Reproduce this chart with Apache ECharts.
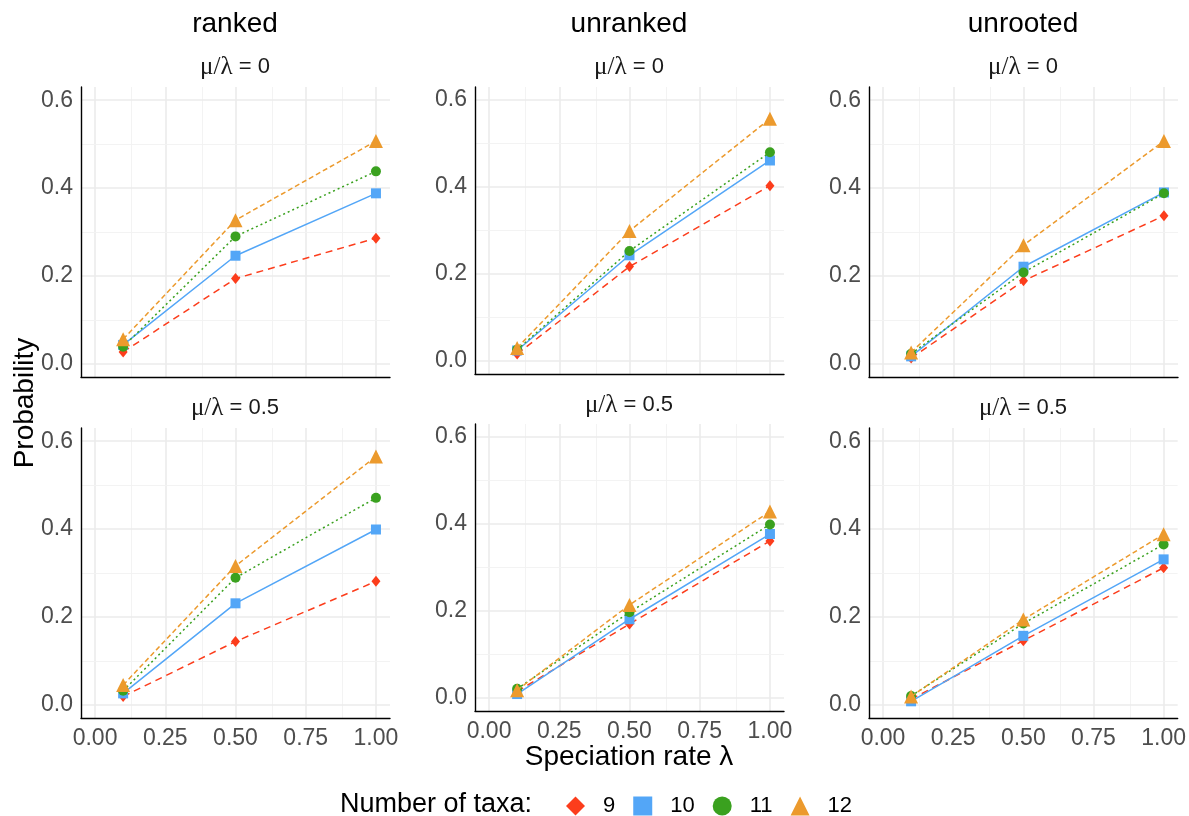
<!DOCTYPE html>
<html>
<head>
<meta charset="utf-8">
<script src="https://cdn.jsdelivr.net/npm/echarts@6/dist/echarts.min.js"></script>
<style>html,body{margin:0;padding:0;background:#fff}#c{width:1189px;height:816px}</style>
</head>
<body>
<div id="c"></div>
<script>
// ---- data ----
const speciationRates = [0.1, 0.5, 1.0];
const taxa = ['9', '10', '11', '12'];
const columnTitles = ['ranked', 'unranked', 'unrooted'];
const muRatios = ['0', '0.5'];
const xTicks = [0, 0.25, 0.5, 0.75, 1.0];
const yTicks = [0, 0.2, 0.4, 0.6];

// probabilities: [taxa 9, 10, 11, 12] x [lambda 0.1, 0.5, 1.0]
const ranked_mu0 = [[0.027, 0.194, 0.286], [0.043, 0.246, 0.388], [0.039, 0.290, 0.438], [0.056, 0.327, 0.507]];
const unranked_mu0 = [[0.016, 0.217, 0.403], [0.024, 0.243, 0.461], [0.026, 0.253, 0.480], [0.030, 0.299, 0.557]];
const unrooted_mu0 = [[0.013, 0.189, 0.337], [0.017, 0.221, 0.390], [0.023, 0.208, 0.388], [0.026, 0.270, 0.507]];
const ranked_mu05 = [[0.019, 0.144, 0.281], [0.026, 0.231, 0.399], [0.032, 0.289, 0.471], [0.045, 0.316, 0.565]];
const unranked_mu05 = [[0.015, 0.170, 0.361], [0.009, 0.181, 0.377], [0.021, 0.197, 0.399], [0.018, 0.214, 0.429]];
const unrooted_mu05 = [[0.013, 0.146, 0.312], [0.008, 0.157, 0.331], [0.020, 0.185, 0.365], [0.019, 0.194, 0.388]];

// ---- layout & style ----
const panelData = [ranked_mu0, unranked_mu0, unrooted_mu0, ranked_mu05, unranked_mu05, unrooted_mu05];
const grids = [
  {left: 81, top: 87, width: 309, height: 290},
  {left: 475, top: 87, width: 309, height: 287},
  {left: 869, top: 87, width: 309, height: 290},
  {left: 81, top: 428, width: 309, height: 290},
  {left: 475, top: 424, width: 309, height: 287},
  {left: 869, top: 428, width: 309, height: 290}
];
const colors = ['#FC3D1C', '#53A6F7', '#3AA11F', '#EC9A2D'];
const symbols = ['diamond', 'rect', 'circle', 'triangle'];
const symbolSizes = [[9, 11], 10, 10, 14];
const dashTypes = [[7, 5], 'solid', [2, 3], [5, 3]];
const SANS = 'Liberation Sans, Arial, sans-serif';
const SERIF = 'Liberation Serif, DejaVu Serif, serif';

const xAxes = [], yAxes = [], series = [];
grids.forEach((g, p) => {
  const bottomRow = p >= 3;
  xAxes.push({
    type: 'value', gridIndex: p, min: -0.05, max: 1.05,
    axisLine: {show: true, onZero: false, lineStyle: {color: '#000', width: 1.4}},
    axisTick: {show: false}, splitLine: {show: false},
    axisLabel: {show: bottomRow, customValues: xTicks, formatter: v => v.toFixed(2),
      color: '#4D4D4D', fontSize: 23, fontFamily: SANS, margin: 9}
  });
  yAxes.push({
    type: 'value', gridIndex: p, min: -0.03, max: 0.63,
    axisLine: {show: true, onZero: false, lineStyle: {color: '#000', width: 1.4}},
    axisTick: {show: false}, splitLine: {show: false},
    axisLabel: {customValues: yTicks, formatter: v => v.toFixed(1),
      color: '#4D4D4D', fontSize: 23, fontFamily: SANS, margin: 8}
  });
  // background grid lines
  const gl = [];
  [0, 0.25, 0.5, 0.75, 1].forEach(v => gl.push({xAxis: v, lineStyle: {color: '#EBEBEB', width: 1.6, type: 'solid'}}));
  [0.125, 0.375, 0.625, 0.875].forEach(v => gl.push({xAxis: v, lineStyle: {color: '#F2F2F2', width: 0.9, type: 'solid'}}));
  [0, 0.2, 0.4, 0.6].forEach(v => gl.push({yAxis: v, lineStyle: {color: '#EBEBEB', width: 1.6, type: 'solid'}}));
  [0.1, 0.3, 0.5].forEach(v => gl.push({yAxis: v, lineStyle: {color: '#F2F2F2', width: 0.9, type: 'solid'}}));
  series.push({
    type: 'line', xAxisIndex: p, yAxisIndex: p, data: [], silent: true, z: 0,
    markLine: {silent: true, z: 0, zlevel: 0, symbol: 'none', label: {show: false}, animation: false, data: gl}
  });
  panelData[p].forEach((vals, t) => {
    series.push({
      type: 'line', name: taxa[t], xAxisIndex: p, yAxisIndex: p, z: 3 + t,
      data: speciationRates.map((x, i) => [x, vals[i]]),
      symbol: symbols[t], symbolSize: symbolSizes[t], showSymbol: true,
      lineStyle: {color: colors[t], width: 1.5, type: dashTypes[t]},
      itemStyle: {color: colors[t], borderWidth: 0, opacity: 1},
      emphasis: {disabled: true}
    });
  });
});

const graphics = [];
const colCenters = [235, 629, 1023];
columnTitles.forEach((t, i) => {
  graphics.push({type: 'text', x: colCenters[i], y: 24, style: {text: t, align: 'center', verticalAlign: 'middle',
    font: '28px ' + SANS, fill: '#000'}});
});
const subY = [[67, 67, 67], [408, 405, 408]];
muRatios.forEach((m, r) => {
  colCenters.forEach((cx, c) => {
    graphics.push({type: 'text', x: cx, y: subY[r][c], style: {
      text: '{s|μ/λ}{n| = ' + m + '}', align: 'center', verticalAlign: 'middle',
      rich: {s: {fontFamily: SERIF, fontSize: 25, fill: '#1a1a1a'}, n: {fontFamily: SANS, fontSize: 22, fill: '#1a1a1a'}}
    }});
  });
});
graphics.push({type: 'text', x: 25, y: 403, rotation: Math.PI / 2, style: {text: 'Probability', align: 'center',
  verticalAlign: 'middle', font: '28px ' + SANS, fill: '#000'}});
graphics.push({type: 'text', x: 629, y: 757, style: {text: 'Speciation rate λ', align: 'center',
  verticalAlign: 'middle', font: '28px ' + SANS, fill: '#000'}});
graphics.push({type: 'text', x: 340, y: 805, style: {text: 'Number of taxa:', align: 'left',
  verticalAlign: 'middle', font: '27px ' + SANS, fill: '#000'}});

const chart = echarts.init(document.getElementById('c'), null, {renderer: 'canvas'});
chart.setOption({
  animation: false,
  backgroundColor: '#fff',
  grid: grids.map(g => Object.assign({containLabel: false}, g)),
  xAxis: xAxes,
  yAxis: yAxes,
  legend: {
    left: 566, top: 795, padding: 0, itemWidth: 19, itemHeight: 19, itemGap: 18,
    data: taxa.map((t, i) => ({name: t, icon: symbols[i], itemStyle: {color: colors[i]}})),
    textStyle: {fontSize: 22, fontFamily: SANS, color: '#000', padding: [0, 0, 0, 13]},
    selectedMode: false
  },
  series: series,
  graphic: graphics
});
</script>
</body>
</html>
